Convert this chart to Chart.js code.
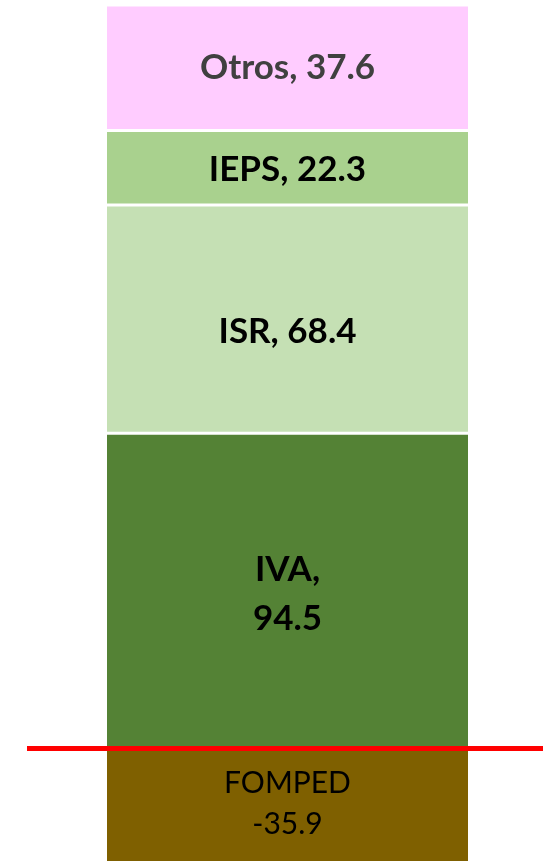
<!DOCTYPE html>
<html>
<head>
<meta charset="utf-8">
<script src="https://cdn.jsdelivr.net/npm/chart.js@4.4.1/dist/chart.umd.min.js"></script>
<style>
  html, body { margin: 0; padding: 0; background: #fff; }
  #wrap { width: 543px; height: 861px; }
</style>
</head>
<body>
<div id="wrap"><canvas id="chart"></canvas></div>
<script>
// Single stacked column, bottom to top
const categories = ['Ingresos'];
const seriesNames = ['FOMPED', 'IVA', 'ISR', 'IEPS', 'Otros'];
const seriesValues = [-35.9, 94.5, 68.4, 22.3, 37.6];

const seriesColors = ['#7f6000', '#548235', '#c5e0b4', '#a9d18e', '#ffccff'];
const labelColors = ['#000000', '#000000', '#000000', '#000000', '#404040'];
const labelFonts = ['normal 30px', 'bold 35px', 'bold 35px', 'bold 35px', 'bold 35px'];
const labelLineGap = [41, 49, 0, 0, 0];   // >0 means label is split on two lines
const labelShift = [-5, 3, 13, 2, 0];     // small manual nudges like in the original

// draws "Name, value" inside every segment
const segmentLabels = {
  id: 'segmentLabels',
  afterDatasetsDraw(chart) {
    const ctx = chart.ctx;
    ctx.save();
    ctx.textAlign = 'center';
    ctx.textBaseline = 'middle';
    chart.data.datasets.forEach((ds, i) => {
      const bar = chart.getDatasetMeta(i).data[0];
      const value = ds.data[0];
      const name = seriesNames[i];
      let lines;
      if (labelLineGap[i] > 0) {
        lines = value < 0 ? [name, String(value)] : [name + ',', String(value)];
      } else {
        lines = [name + ', ' + value];
      }
      const cy = (bar.y + bar.base) / 2 + labelShift[i];
      ctx.fillStyle = labelColors[i];
      ctx.font = labelFonts[i] + ' Lato, "Open Sans", sans-serif';
      lines.forEach((t, k) => {
        ctx.fillText(t, bar.x, cy + (k - (lines.length - 1) / 2) * labelLineGap[i]);
      });
    });
    ctx.restore();
  }
};

// red line on zero
const zeroLine = {
  id: 'zeroLine',
  afterDatasetsDraw(chart, args, opts) {
    const y = chart.scales.y.getPixelForValue(0);
    const ctx = chart.ctx;
    ctx.save();
    ctx.strokeStyle = '#ff0000';
    ctx.lineWidth = 5;
    ctx.beginPath();
    ctx.moveTo(opts.start, y);
    ctx.lineTo(chart.width, y);
    ctx.stroke();
    ctx.restore();
  }
};

const datasets = seriesNames.map((name, i) => ({
  label: name,
  data: [seriesValues[i]],
  backgroundColor: seriesColors[i],
  borderColor: '#ffffff',
  borderWidth: { top: 1.5, bottom: 1.5 },
  borderSkipped: false,
  barPercentage: 0.7065,
  categoryPercentage: 1
}));

new Chart(document.getElementById('chart'), {
  type: 'bar',
  data: { labels: categories, datasets },
  options: {
    responsive: true,
    maintainAspectRatio: false,
    animation: false,
    layout: { padding: { left: 32, right: 0, top: 0, bottom: 0 } },
    plugins: {
      legend: { display: false },
      tooltip: { enabled: false },
      zeroLine: { start: 27 }
    },
    scales: {
      x: { stacked: true, display: false },
      y: { stacked: true, display: false, min: -33.7, max: 224.3 }
    }
  },
  plugins: [segmentLabels, zeroLine]
});
</script>
</body>
</html>
